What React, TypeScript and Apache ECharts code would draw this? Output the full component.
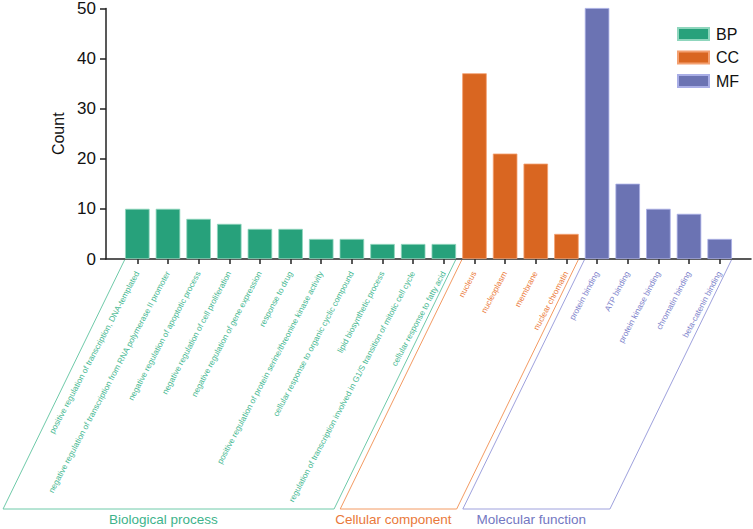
import React, { useEffect, useRef } from "react";
import * as echarts from "echarts";

const bpCategories = [
  "positive regulation of transcription, DNA-templated",
  "negative regulation of transcription from RNA polymerase II promoter",
  "negative regulation of apoptotic process",
  "negative regulation of cell proliferation",
  "negative regulation of gene expression",
  "response to drug",
  "positive regulation of protein serine/threonine kinase activity",
  "cellular response to organic cyclic compound",
  "lipid biosynthetic process",
  "regulation of transcription involved in G1/S transition of mitotic cell cycle",
  "cellular response to fatty acid",
];
const bpValues = [10, 10, 8, 7, 6, 6, 4, 4, 3, 3, 3];

const ccCategories = ["nucleus", "nucleoplasm", "membrane", "nuclear chromatin"];
const ccValues = [37, 21, 19, 5];

const mfCategories = [
  "protein binding",
  "ATP binding",
  "protein kinase binding",
  "chromatin binding",
  "beta-catenin binding",
];
const mfValues = [50, 15, 10, 9, 4];

const seriesNames = ["BP", "CC", "MF"];
const groupTitles = ["Biological process", "Cellular component", "Molecular function"];
const yMin = 0;
const yMax = 50;
const yInterval = 10;

const FONT = "'Liberation Sans', Arial, Helvetica, sans-serif";
const barColors = ["#27a17b", "#d96621", "#6b73b3"];
const barBorders = ["#8fd6bd", "#f4a070", "#a9aee6"];
const labelColors = ["#45b891", "#ec7c3c", "#7d82cb"];
const lineColors = ["#6fcaa9", "#f39a62", "#9ea1dd"];
const titleColors = ["#3db38b", "#e9793a", "#7378c2"];

export default function App() {
  const ref = useRef<HTMLDivElement>(null);

  useEffect(() => {
    if (!ref.current) return;
    const chart = echarts.init(ref.current, undefined, { renderer: "svg" });
    const groups = [bpCategories, ccCategories, mfCategories];
    const values = [bpValues, ccValues, mfValues];
    const allCategories = [...bpCategories, ...ccCategories, ...mfCategories];
    const groupOf = (name: string) => groups.findIndex((g) => g.includes(name));

    chart.setOption({
      animation: false,
      textStyle: { fontFamily: FONT },
      grid: [
        { left: 106, right: 2, top: 8, bottom: 270, containLabel: false },
        { left: 122, right: 18, top: 8, bottom: 270, containLabel: false },
      ],
      legend: {
        orient: "vertical",
        left: 672,
        top: 21,
        itemWidth: 31,
        itemHeight: 12,
        itemGap: 7.5,
        icon: "rect",
        data: seriesNames,
        textStyle: { fontSize: 16, color: "#111", fontFamily: FONT, lineHeight: 16, padding: [0, 0, 0, 2] },
      },
      xAxis: [
        {
          gridIndex: 0,
          type: "value",
          min: 0,
          max: 1,
          axisLine: { show: true, onZero: false, lineStyle: { color: "#222", width: 1.5 } },
          axisTick: { show: false },
          axisLabel: { show: false },
          splitLine: { show: false },
        },
        {
          gridIndex: 1,
          type: "category",
          data: allCategories.map((c) => ({
            value: c,
            textStyle: { color: labelColors[groupOf(c)] },
          })),
          axisLine: { show: false },
          axisTick: {
            show: true,
            alignWithLabel: true,
            length: 5,
            lineStyle: { color: "#222", width: 1.5 },
          },
          axisLabel: {
            interval: 0,
            rotate: 62,
            fontSize: 8.2,
            margin: 13,
            fontFamily: FONT,
          },
        },
      ],
      yAxis: [
        {
          gridIndex: 0,
          type: "value",
          min: yMin,
          max: yMax,
          interval: yInterval,
          name: "Count",
          nameLocation: "middle",
          nameGap: 29,
          nameTextStyle: { fontSize: 16, color: "#111", fontFamily: FONT },
          axisLine: { show: true, lineStyle: { color: "#222", width: 1.5 } },
          axisTick: { show: true, length: 6, lineStyle: { color: "#222", width: 1.5 } },
          axisLabel: { fontSize: 17, color: "#111", margin: 10, fontFamily: FONT },
          splitLine: { show: false },
        },
        {
          gridIndex: 1,
          type: "value",
          min: yMin,
          max: yMax,
          interval: yInterval,
          show: false,
          splitLine: { show: false },
        },
      ],
      series: seriesNames.map((name, gi) => ({
        name,
        type: "bar",
        xAxisIndex: 1,
        yAxisIndex: 1,
        barGap: "-100%",
        barCategoryGap: "20%",
        itemStyle: { color: barColors[gi], borderColor: barBorders[gi], borderWidth: 0.8 },
        data: groups[gi].map((c, i) => [c, values[gi][i]]),
      })),
    });

    // Group brackets computed from the axis scales
    const px = (i: number) => chart.convertToPixel({ xAxisIndex: 1 }, i) as number;
    const band = px(1) - px(0);
    const half = (band * 0.8) / 2;
    const y0 = chart.convertToPixel({ yAxisIndex: 1 }, 0) as number;
    const bottomY = 509;
    const slant = 121.5;
    const textY = 519.5;
    const graphics: any[] = [];
    let offset = 0;
    groups.forEach((g, gi) => {
      const left = px(offset) - half - 0.5;
      const right = px(offset + g.length - 1) + half - 0.5;
      offset += g.length;
      graphics.push({
        type: "polyline",
        silent: true,
        shape: {
          points: [
            [left, y0 + 1],
            [left - slant, bottomY],
            [right - slant, bottomY],
            [right, y0 + 1],
          ],
        },
        style: { fill: "none", stroke: lineColors[gi], lineWidth: 1 },
      });
      const tShift = (slant * (textY - y0)) / (bottomY - y0);
      graphics.push({
        type: "text",
        silent: true,
        x: (left + right) / 2 - tShift,
        y: textY,
        style: {
          text: groupTitles[gi],
          fill: titleColors[gi],
          fontSize: 13.5,
          fontFamily: FONT,
          align: "center",
          verticalAlign: "middle",
        },
      });
    });
    chart.setOption({ graphic: graphics });

    return () => chart.dispose();
  }, []);

  return (
    <div
      ref={ref}
      style={{ position: "fixed", left: 0, top: 0, width: 753, height: 529, background: "#fff" }}
    />
  );
}
